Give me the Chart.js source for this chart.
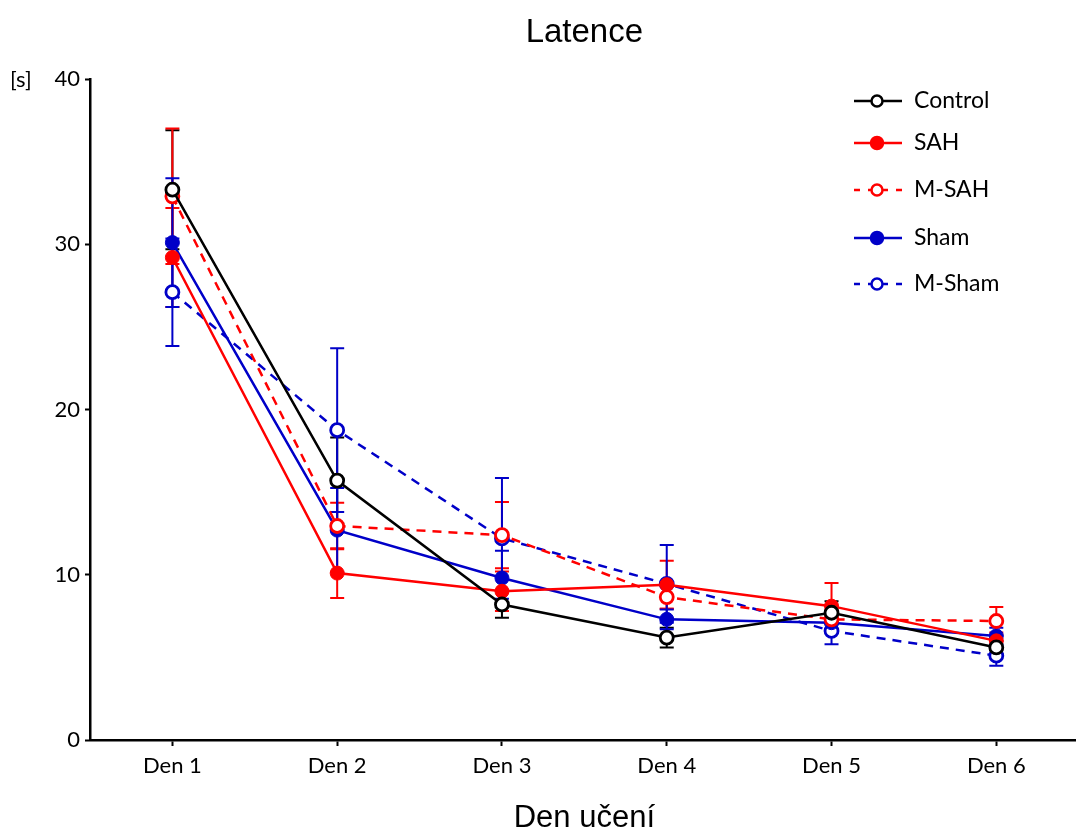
<!DOCTYPE html>
<html>
<head>
<meta charset="utf-8">
<script src="https://cdn.jsdelivr.net/npm/chart.js@4"></script>
<style>
  html, body { margin: 0; padding: 0; background: #fff; overflow: hidden; }
  #wrap { width: 1088px; height: 833px; }
  canvas { display: block; }
</style>
</head>
<body>
<div id="wrap"><canvas id="latenceCanvas"></canvas></div>
<script>
// Data
const days = ['Den 1', 'Den 2', 'Den 3', 'Den 4', 'Den 5', 'Den 6'];
const yTicks = [0, 10, 20, 30, 40];

const control = [33.3, 15.7, 8.2, 6.2, 7.7, 5.6];
const controlErr = [3.6, 2.6, 0.8, 0.6, 0.7, 0.4];
const sah = [29.2, 10.1, 9.0, 9.4, 8.1, 6.0];
const sahErr = [3.0, 1.5, 1.2, 1.45, 1.4, 0.5];
const mSah = [32.9, 12.95, 12.4, 8.65, 7.3, 7.2];
const mSahErr = [4.1, 1.4, 2.0, 0.7, 0.6, 0.85];
const sham = [30.1, 12.7, 9.8, 7.3, 7.1, 6.3];
const shamErr = [3.9, 2.55, 1.65, 0.6, 0.5, 0.5];
const mSham = [27.1, 18.75, 12.2, 9.45, 6.6, 5.1];
const mShamErr = [3.25, 4.95, 3.65, 2.35, 0.8, 0.6];

const RED = '#ff0000';
const BLUE = '#0000c8';
const BLACK = '#000000';
const LABEL_FONT = 'Lato';

function series(label, data, err, color, open, dashed) {
    return {
        label: label,
        data: data,
        errors: err,
        borderColor: color,
        backgroundColor: open ? '#ffffff' : color,
        pointBackgroundColor: open ? '#ffffff' : color,
        pointBorderColor: color,
        pointBorderWidth: open ? 2.8 : 1,
        pointRadius: open ? 6.5 : 7,
        borderWidth: 2.5,
        borderDash: dashed ? [9, 7] : [],
        tension: 0,
        open: open,
        dashed: dashed
    };
}

// error bars, drawn under the lines and markers
const errorBars = {
    id: 'errorBars',
    beforeDatasetsDraw(chart) {
        const ctx = chart.ctx;
        const y = chart.scales.y;
        ctx.save();
        ctx.setLineDash([]);
        chart.data.datasets.forEach((ds, i) => {
            const meta = chart.getDatasetMeta(i);
            ctx.strokeStyle = ds.borderColor;
            ctx.lineWidth = 2;
            meta.data.forEach((pt, j) => {
                const v = ds.data[j], e = ds.errors[j];
                const top = y.getPixelForValue(v + e);
                const bot = y.getPixelForValue(v - e);
                ctx.beginPath();
                ctx.moveTo(pt.x, top); ctx.lineTo(pt.x, bot);
                ctx.moveTo(pt.x - 7, top); ctx.lineTo(pt.x + 7, top);
                ctx.moveTo(pt.x - 7, bot); ctx.lineTo(pt.x + 7, bot);
                ctx.stroke();
            });
        });
        ctx.restore();
    }
};

// titles, unit label and a legend with line + marker
const decorations = {
    id: 'decorations',
    afterDraw(chart) {
        const ctx = chart.ctx;
        const area = chart.chartArea;
        const cx = (area.left + area.right) / 2;
        ctx.save();
        ctx.fillStyle = '#000';
        ctx.textBaseline = 'middle';
        ctx.textAlign = 'center';
        ctx.font = '33px "Liberation Sans"';
        ctx.fillText('Latence', cx, 33);
        ctx.font = '31px "Liberation Sans"';
        ctx.fillText('Den učení', cx, 818);

        ctx.textAlign = 'left';
        ctx.font = '22px ' + LABEL_FONT;
        ctx.fillText('[s]', 10, 80);

        const rows = [101, 143, 190, 238, 284];
        ctx.font = '23px ' + LABEL_FONT;
        chart.data.datasets.forEach((ds, i) => {
            const yy = rows[i];
            ctx.strokeStyle = ds.borderColor;
            ctx.lineWidth = 2.5;
            ctx.setLineDash(ds.dashed ? [6, 8] : []);
            ctx.beginPath();
            ctx.moveTo(854, yy); ctx.lineTo(902, yy);
            ctx.stroke();
            ctx.setLineDash([]);
            ctx.beginPath();
            ctx.arc(877, yy, ds.open ? 5.5 : 6, 0, Math.PI * 2);
            ctx.fillStyle = ds.open ? '#fff' : ds.borderColor;
            ctx.fill();
            ctx.lineWidth = 2.5;
            ctx.stroke();
            ctx.fillStyle = '#000';
            ctx.fillText(ds.label, 914, yy);
        });
        ctx.restore();
    }
};

const latenceContext = document.getElementById('latenceCanvas').getContext('2d');

new Chart(latenceContext, {
    type: 'line',
    data: {
        labels: days,
        datasets: [
            series('Control', control, controlErr, BLACK, true, false),
            series('SAH', sah, sahErr, RED, false, false),
            series('M-SAH', mSah, mSahErr, RED, true, true),
            series('Sham', sham, shamErr, BLUE, false, false),
            series('M-Sham', mSham, mShamErr, BLUE, true, true)
        ]
    },
    options: {
        responsive: true,
        maintainAspectRatio: false,
        animation: false,
        layout: { padding: { left: 0, right: 0, top: 79, bottom: 0 } },
        scales: {
            x: {
                offset: true,
                grid: {
                    offset: false,
                    drawOnChartArea: false,
                    drawTicks: true,
                    tickLength: 6,
                    tickWidth: 2,
                    tickColor: '#000'
                },
                border: { color: '#000', width: 2.5 },
                ticks: {
                    color: '#000',
                    font: { family: LABEL_FONT, size: 22 },
                    padding: 7
                },
                afterFit(scale) { scale.height = 93; }
            },
            y: {
                min: 0,
                max: 40,
                afterBuildTicks(scale) { scale.ticks = yTicks.map(v => ({ value: v })); },
                grid: {
                    drawOnChartArea: false,
                    drawTicks: true,
                    tickLength: 5,
                    tickWidth: 2,
                    tickColor: '#000'
                },
                border: { color: '#000', width: 2.5 },
                ticks: {
                    color: '#000',
                    font: { family: LABEL_FONT, size: 22 },
                    padding: 5
                },
                afterFit(scale) { scale.width = 90; }
            }
        },
        plugins: {
            legend: { display: false },
            tooltip: { enabled: false },
            title: { display: false }
        }
    },
    plugins: [errorBars, decorations]
});
</script>
</body>
</html>
